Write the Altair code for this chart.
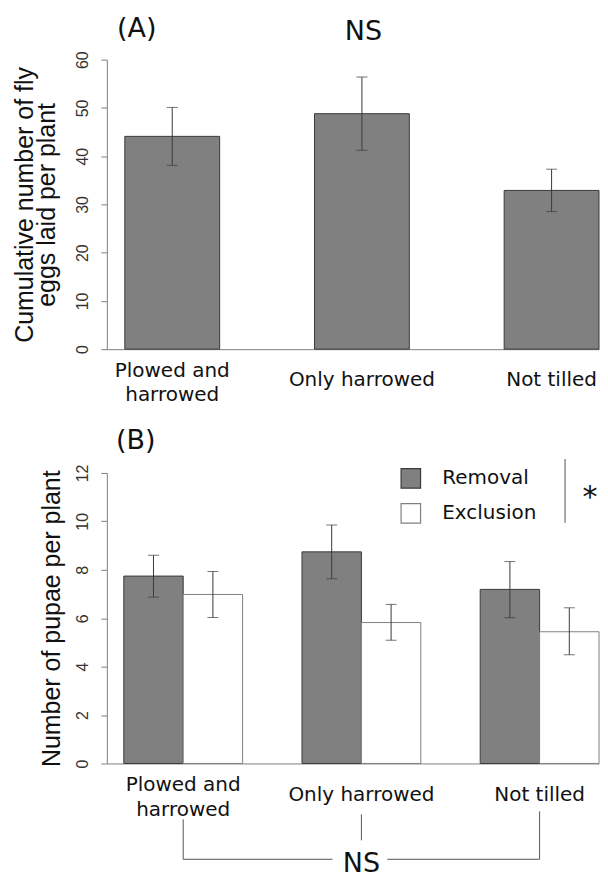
import altair as alt
import pandas as pd

# ---------------- data ----------------
categories = ["Plowed and\nharrowed", "Only harrowed", "Not tilled"]

eggs_mean = [44.1, 48.8, 32.9]
eggs_low = [38.1, 41.2, 28.5]
eggs_high = [50.1, 56.4, 37.3]

treatments = ["Removal", "Exclusion"]
removal_mean = [7.74, 8.74, 7.19]
removal_low = [6.87, 7.63, 6.02]
removal_high = [8.60, 9.85, 8.34]
exclusion_mean = [6.98, 5.82, 5.44]
exclusion_low = [6.03, 5.09, 4.49]
exclusion_high = [7.93, 6.57, 6.43]

eggs_ticks = [0, 10, 20, 30, 40, 50, 60]
pupae_ticks = [0, 2, 4, 6, 8, 10, 12]

title_a = ["Cumulative number of fly", "eggs laid per plant"]
title_b = "Number of pupae per plant"

# ---------------- styles ----------------
W, HA, HB = 493, 290, 291
GAP = 124
GRAY = "#808080"
DARK = "#3a3a3a"
AXIS = "#808080"
TXT = "#111111"
SANS = "Liberation Sans"
DJV = "DejaVu Sans"
MULTI = "indexof(datum.cat, '\\n') >= 0"
SINGLE = "indexof(datum.cat, '\\n') < 0"


def y_axis(values, title, pad):
    return alt.Axis(
        values=values, title=title, grid=False,
        labelAngle=270, labelAlign="center", labelBaseline="alphabetic",
        labelFont=SANS, labelFontSize=16, labelColor="#333333", labelPadding=13,
        tickSize=6, tickColor=AXIS, domainColor=AXIS, domainWidth=1, tickWidth=1,
        titleFont=SANS, titleFontSize=25, titleFontWeight="normal", titleColor=TXT,
        titlePadding=pad, titleLineHeight=22,
    )


def x_axis():
    return alt.Axis(title=None, labels=False, ticks=False, domainColor=AXIS, domainWidth=1)


def note(text, x, y, size=27, font=DJV):
    return alt.Chart(pd.DataFrame({"t": [text]})).mark_text(
        font=font, fontSize=size, color=TXT, baseline="middle", align="center"
    ).encode(x=alt.value(x), y=alt.value(y), text="t:N")


xc = alt.X("cat:N", sort=categories)
df_cat = pd.DataFrame({"cat": categories})


def cat_labels(y_multi, y_single, lh):
    multi = alt.Chart(df_cat).transform_filter(MULTI).mark_text(
        lineBreak="\n", baseline="middle", font=DJV, fontSize=20, lineHeight=lh, color=TXT
    ).encode(x=xc, y=alt.value(y_multi), text="cat:N")
    single = alt.Chart(df_cat).transform_filter(SINGLE).mark_text(
        baseline="middle", font=DJV, fontSize=20, color=TXT
    ).encode(x=xc, y=alt.value(y_single), text="cat:N")
    return [multi, single]


# ---------------- panel A ----------------
df_a = pd.DataFrame({"cat": categories, "mean": eggs_mean, "low": eggs_low, "high": eggs_high})
xa = alt.X("cat:N", sort=categories,
           scale=alt.Scale(paddingInner=0.5, paddingOuter=0.0474, align=1), axis=x_axis())
ya = alt.Y("mean:Q", scale=alt.Scale(domain=[0, 60], nice=False), axis=y_axis(eggs_ticks, title_a, 15))
base_a = alt.Chart(df_a)
bars_a = base_a.mark_bar(fill=GRAY, stroke=DARK, strokeWidth=1).encode(x=xa, y=ya)
err_a = base_a.mark_rule(color=DARK, strokeWidth=1).encode(x=xc, y="low:Q", y2="high:Q")
cap_lo_a = base_a.mark_tick(color=DARK, size=11, thickness=1).encode(x=xc, y="low:Q")
cap_hi_a = base_a.mark_tick(color=DARK, size=11, thickness=1).encode(x=xc, y="high:Q")

panel_a = alt.layer(
    bars_a, err_a, cap_lo_a, cap_hi_a, *cat_labels(312, 321, 24),
    note("(A)", 30, -31), note("NS", 257, -28),
).properties(width=W, height=HA)

# ---------------- panel B ----------------
df_b = pd.DataFrame({
    "cat": categories * 2,
    "treat": [treatments[0]] * 3 + [treatments[1]] * 3,
    "mean": removal_mean + exclusion_mean,
    "low": removal_low + exclusion_low,
    "high": removal_high + exclusion_high,
})
xb = alt.X("cat:N", sort=categories,
           scale=alt.Scale(paddingInner=1 / 3, paddingOuter=0.0476, align=1), axis=x_axis())
xo = alt.XOffset("treat:N", sort=treatments, scale=alt.Scale(paddingInner=0, paddingOuter=0))
yb = alt.Y("mean:Q", scale=alt.Scale(domain=[0, 12], nice=False), axis=y_axis(pupae_ticks, title_b, 10))
base_b = alt.Chart(df_b)
bars_b = base_b.mark_bar(strokeWidth=1).encode(
    x=xb, xOffset=xo, y=yb,
    fill=alt.Fill("treat:N", sort=treatments,
                  scale=alt.Scale(domain=treatments, range=[GRAY, "#ffffff"]),
                  legend=alt.Legend(
                      orient="none", legendX=294, legendY=HA + GAP - 5, title=None, padding=0,
                      symbolType="square", symbolSize=380, symbolStrokeColor=DARK,
                      symbolStrokeWidth=1.2, labelFont=DJV, labelFontSize=20,
                      labelColor=TXT, labelOffset=21, rowPadding=10)),
    stroke=alt.Stroke("treat:N", sort=treatments,
                      scale=alt.Scale(domain=treatments, range=[DARK, GRAY]), legend=None),
)
xob = alt.XOffset("treat:N", sort=treatments)
err_b = base_b.mark_rule(color=DARK, strokeWidth=1).encode(x=xc, xOffset=xob, y="low:Q", y2="high:Q")
cap_lo_b = base_b.mark_tick(color=DARK, size=11, thickness=1).encode(x=xc, xOffset=xob, y="low:Q")
cap_hi_b = base_b.mark_tick(color=DARK, size=11, thickness=1).encode(x=xc, xOffset=xob, y="high:Q")

sig_line = alt.Chart(df_cat.head(1)).mark_rule(color="#555555", strokeWidth=1).encode(
    x=alt.value(459), y=alt.value(-14), y2=alt.value(50))
star = note("*", 484, 25, size=30)


def vbar(i, top, bottom):
    return alt.Chart(pd.DataFrame({"cat": [categories[i]]})).mark_rule(color="#555555", strokeWidth=1).encode(
        x=xc, y=alt.value(top), y2=alt.value(bottom))


br_left = vbar(0, 347, 387)
br_mid = vbar(1, 342, 368)
br_right = vbar(2, 339, 387)
h_left = alt.Chart(pd.DataFrame({"cat": [categories[0]]})).mark_rule(color="#555555", strokeWidth=1).encode(
    x=xc, x2=alt.value(226), y=alt.value(387))
h_right = alt.Chart(pd.DataFrame({"cat": [categories[2]]})).mark_rule(color="#555555", strokeWidth=1).encode(
    x=xc, x2=alt.value(281), y=alt.value(387))
ns_b = alt.Chart(pd.DataFrame({"cat": [categories[1]], "t": ["NS"]})).mark_text(
    font=DJV, fontSize=27, color=TXT, baseline="middle").encode(x=xc, y=alt.value(392), text="t:N")

panel_b = alt.layer(
    bars_b, err_b, cap_lo_b, cap_hi_b, *cat_labels(313, 323, 25), sig_line, star,
    br_left, br_mid, br_right, h_left, h_right, ns_b,
    note("(B)", 29, -32),
).properties(width=W, height=HB)

chart = alt.vconcat(panel_a, panel_b, spacing=GAP, bounds="flush").properties(
    padding={"left": 4, "top": 6, "right": 0, "bottom": 0}
).configure_view(stroke=None)

chart.save("out.html", embed_options={"renderer": "svg", "actions": False})
